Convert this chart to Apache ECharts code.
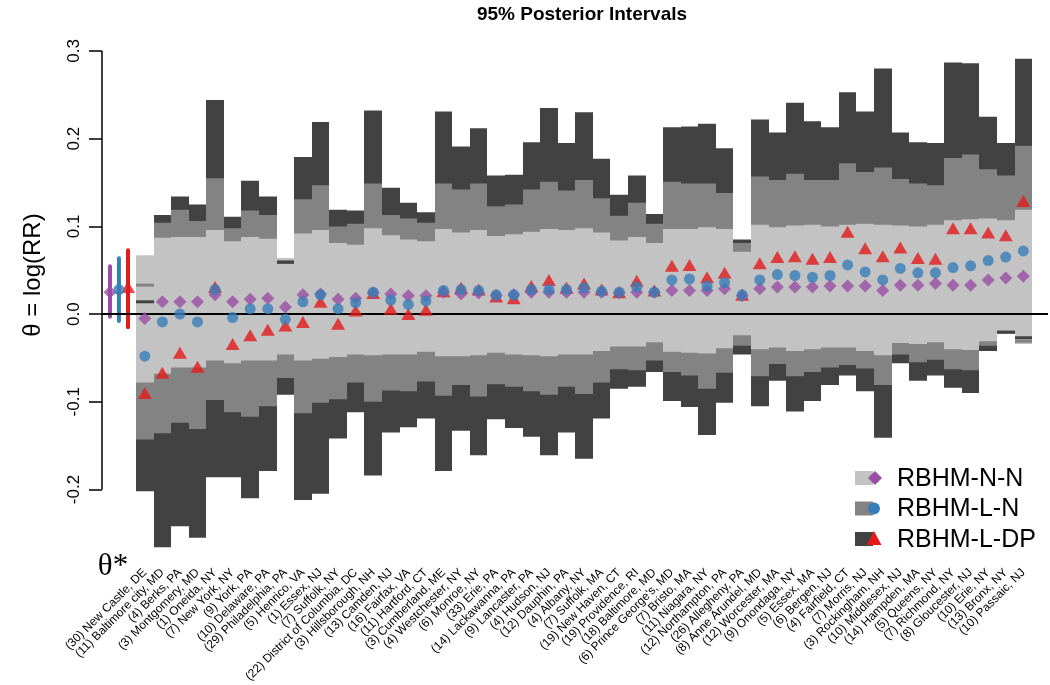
<!DOCTYPE html>
<html><head><meta charset="utf-8">
<script src="https://cdn.jsdelivr.net/npm/echarts@6/dist/echarts.min.js"></script>
<style>html,body{margin:0;padding:0;background:#fff}#c{width:1050px;height:685px}</style>
</head><body><div id="c"></div><script>
// ---------------- data ----------------
const categories = [
"(30) New Castle, DE","(11) Baltimore city, MD","(4) Berks, PA","(3) Montgomery, MD","(1) Oneida, NY",
"(7) New York, NY","(9) York, PA","(10) Delaware, PA","(29) Philadelphia, PA","(5) Henrico, VA",
"(1) Essex, NJ","(7) Suffolk, NY","(22) District of Columbia, DC","(3) Hillsborough, NH","(13) Camden, NJ",
"(16) Fairfax, VA","(11) Hartford, CT","(3) Cumberland, ME","(4) Westchester, NY","(6) Monroe, NY",
"(33) Erie, PA","(14) Lackawanna, PA","(9) Lancaster, PA","(4) Hudson, NJ","(12) Dauphin, PA",
"(4) Albany, NY","(7) Suffolk, MA","(19) New Haven, CT","(19) Providence, RI","(18) Baltimore, MD",
"(6) Prince George's, MD","(7) Bristo, MA","(11) Niagara, NY","(12) Northampton, PA","(26) Allegheny, PA",
"(8) Anne Arundel, MD","(12) Worcester, MA","(9) Onondaga, NY","(5) Essex, MA","(6) Bergen, NJ",
"(4) Fairfield, CT","(7) Morris, NJ","(3) Rockingham, NH","(10) Middlesex, NJ","(14) Hampden, MA",
"(5) Queens, NY","(7) Richmond, NY","(8) Gloucester, NJ","(10) Erie, NY","(13) Bronx, NY",
"(10) Passaic, NJ"];
// RBHM-N-N interval (light gray)
const nnLo = [-0.078,-0.068,-0.061,-0.061,-0.053,-0.056,-0.053,-0.053,-0.046,-0.053,
-0.051,-0.049,-0.046,-0.047,-0.046,-0.046,-0.043,-0.048,-0.048,-0.047,
-0.044,-0.046,-0.047,-0.048,-0.046,-0.046,-0.042,-0.037,-0.037,-0.032,
-0.043,-0.044,-0.045,-0.039,-0.024,-0.040,-0.038,-0.042,-0.040,-0.038,
-0.038,-0.042,-0.047,-0.033,-0.034,-0.032,-0.040,-0.041,-0.031,-0.0225,-0.034];
const nnHi = [0.067,0.087,0.088,0.088,0.096,0.083,0.088,0.086,0.064,0.092,
0.096,0.081,0.079,0.098,0.090,0.085,0.083,0.097,0.093,0.096,
0.089,0.091,0.094,0.097,0.096,0.098,0.093,0.084,0.088,0.081,
0.097,0.097,0.099,0.097,0.071,0.102,0.099,0.101,0.102,0.100,
0.102,0.103,0.102,0.101,0.100,0.102,0.107,0.108,0.109,0.107,0.119];
// RBHM-L-N interval (medium gray)
const lnLo = [-0.143,-0.136,-0.124,-0.131,-0.098,-0.112,-0.117,-0.105,-0.073,-0.113,
-0.101,-0.097,-0.078,-0.100,-0.087,-0.088,-0.077,-0.093,-0.081,-0.094,
-0.080,-0.083,-0.088,-0.092,-0.083,-0.091,-0.078,-0.063,-0.064,-0.053,
-0.066,-0.070,-0.085,-0.067,-0.036,-0.071,-0.057,-0.071,-0.066,-0.061,
-0.058,-0.062,-0.081,-0.046,-0.055,-0.052,-0.063,-0.064,-0.036,-0.021,-0.031];
const lnHi = [0.033,0.104,0.119,0.106,0.155,0.098,0.118,0.113,0.060,0.131,
0.147,0.100,0.103,0.149,0.113,0.109,0.104,0.149,0.142,0.149,
0.123,0.125,0.142,0.151,0.141,0.153,0.132,0.112,0.127,0.103,
0.151,0.149,0.149,0.138,0.081,0.157,0.153,0.160,0.153,0.153,
0.172,0.162,0.167,0.154,0.149,0.147,0.178,0.182,0.165,0.158,0.192];
// RBHM-L-DP interval (dark gray)
const dpLo = [-0.202,-0.266,-0.242,-0.255,-0.186,-0.186,-0.210,-0.179,-0.092,-0.212,
-0.205,-0.142,-0.112,-0.184,-0.135,-0.129,-0.119,-0.179,-0.133,-0.161,
-0.120,-0.130,-0.140,-0.161,-0.135,-0.165,-0.119,-0.085,-0.083,-0.066,
-0.099,-0.106,-0.138,-0.101,-0.046,-0.105,-0.076,-0.111,-0.099,-0.081,
-0.070,-0.088,-0.141,-0.056,-0.076,-0.070,-0.084,-0.090,-0.042,-0.0205,-0.027];
const dpHi = [0.014,0.113,0.134,0.125,0.244,0.111,0.152,0.134,0.059,0.179,
0.219,0.119,0.118,0.232,0.144,0.127,0.116,0.231,0.191,0.212,
0.158,0.159,0.196,0.235,0.195,0.230,0.177,0.136,0.158,0.114,
0.213,0.214,0.217,0.189,0.085,0.222,0.207,0.241,0.220,0.213,
0.253,0.231,0.280,0.207,0.196,0.195,0.287,0.286,0.225,0.195,0.291];
// point estimates
const nnEst = [-0.005,0.014,0.014,0.014,0.022,0.014,0.017,0.018,0.008,0.022,
0.023,0.017,0.018,0.024,0.023,0.021,0.021,0.025,0.023,0.024,
0.021,0.022,0.025,0.025,0.025,0.025,0.025,0.024,0.025,0.025,
0.027,0.027,0.027,0.029,0.021,0.029,0.031,0.031,0.031,0.032,
0.032,0.032,0.027,0.033,0.033,0.035,0.033,0.033,0.039,0.041,0.043];
const lnEst = [-0.048,-0.009,0.000,-0.009,0.028,-0.004,0.006,0.006,-0.006,0.014,
0.022,0.006,0.013,0.025,0.016,0.011,0.015,0.027,0.028,0.027,
0.022,0.022,0.028,0.028,0.028,0.030,0.026,0.025,0.031,0.025,
0.039,0.040,0.032,0.036,0.022,0.039,0.045,0.044,0.042,0.044,
0.056,0.048,0.039,0.052,0.047,0.047,0.053,0.055,0.061,0.065,0.072];
const dpEst = [-0.090,-0.067,-0.044,-0.060,0.031,-0.034,-0.024,-0.018,-0.013,-0.009,
0.014,-0.011,0.004,0.024,0.006,0.000,0.005,0.026,0.030,0.028,
0.020,0.018,0.032,0.039,0.030,0.035,0.028,0.025,0.038,0.027,
0.055,0.056,0.042,0.047,0.022,0.058,0.065,0.066,0.063,0.065,
0.094,0.075,0.066,0.076,0.064,0.063,0.098,0.098,0.093,0.090,0.129];
// theta* (overall) for N-N, L-N, L-DP
const thetaStarEst = [0.025, 0.028, 0.031];
const thetaStarLo = [-0.003, -0.008, -0.015];
const thetaStarHi = [0.0545, 0.0636, 0.0727];
const yTicks = [-0.2, -0.1, 0.0, 0.1, 0.2, 0.3];
const yTickLabels = ["-0.2", "-0.1", "0.0", "0.1", "0.2", "0.3"];
const seriesNames = ["RBHM-N-N", "RBHM-L-N", "RBHM-L-DP"];

// ---------------- styling ----------------
const LIGHT = '#c3c3c3', MED = '#838383', DARK = '#424242';
const PURPLE = '#984ea3', BLUE = '#377eb8', RED = '#e41a1c';
const X_MIN = -1.435, X_MAX = 52.405;
const STAR_X = [-0.98, -0.47, 0.045];
const FONT = 'Liberation Sans, Arial, sans-serif';

const bandData = categories.map((c, i) => [i + 1, nnLo[i], nnHi[i], lnLo[i], lnHi[i], dpLo[i], dpHi[i]]);

function renderBand(params, api) {
  const x = api.value(0);
  const xl = Math.round(api.coord([x - 0.5, 0])[0]);
  const xr = Math.round(api.coord([x + 0.5, 0])[0]);
  const b = {
    nl: api.value(1), nh: api.value(2), ll: api.value(3), lh: api.value(4), dl: api.value(5), dh: api.value(6)
  };
  const bands = [[b.dl, b.dh, DARK], [b.ll, b.lh, MED], [b.nl, b.nh, LIGHT]];
  const children = [];
  bands.forEach(([lo, hi, col]) => {
    const yt = api.coord([x, hi])[1], yb = api.coord([x, lo])[1];
    children.push({ type: 'rect', shape: { x: xl, y: yt, width: xr - xl, height: yb - yt }, style: { fill: col } });
  });
  // bounds hidden under an inner band still show as thin dashes
  const dashes = [];
  if (b.lh < b.nh) dashes.push([b.lh, MED]);
  if (b.ll > b.nl) dashes.push([b.ll, MED]);
  if (b.dh < Math.max(b.nh, b.lh)) dashes.push([b.dh, DARK]);
  if (b.dl > Math.min(b.nl, b.ll)) dashes.push([b.dl, DARK]);
  dashes.forEach(([v, col]) => {
    const y = api.coord([x, v])[1];
    children.push({ type: 'line', shape: { x1: xl, y1: y, x2: xr, y2: y }, style: { stroke: col, lineWidth: 3 } });
  });
  return { type: 'group', children };
}

const starData = thetaStarEst.map((e, i) => [STAR_X[i], thetaStarLo[i], thetaStarHi[i], i]);
const starCols = [PURPLE, BLUE, RED];
function renderStar(params, api) {
  const x = api.value(0);
  const p1 = api.coord([x, api.value(1)]), p2 = api.coord([x, api.value(2)]);
  return { type: 'line', shape: { x1: p1[0], y1: p1[1], x2: p2[0], y2: p2[1] },
    style: { stroke: starCols[api.value(3)], lineWidth: 4, lineCap: 'round' } };
}
function renderYAxisLine(params, api) {
  const p1 = api.coord([X_MIN, yTicks[0]]), p2 = api.coord([X_MIN, yTicks[yTicks.length - 1]]);
  return { type: 'line', shape: { x1: p1[0], y1: p1[1], x2: p2[0], y2: p2[1] }, style: { stroke: '#000', lineWidth: 1.5 } };
}

const pts = (arr) => arr.map((v, i) => [i + 1, v]);

const chart = echarts.init(document.getElementById('c'), null, { renderer: 'canvas' });
chart.setOption({
  animation: false,
  backgroundColor: '#fff',
  title: { text: '95% Posterior Intervals', left: 577, top: 0, textAlign: 'center',
    textStyle: { fontFamily: FONT, fontSize: 19, fontWeight: 'bold', color: '#000' } },
  grid: { left: 102, right: 2, top: 38.7, bottom: 116.6 },
  xAxis: [{
    type: 'value', min: X_MIN, max: X_MAX,
    axisLine: { show: false, onZero: false }, axisTick: { show: false }, splitLine: { show: false },
    axisLabel: { customValues: categories.map((c, i) => i + 1), formatter: (v) => categories[Math.round(v) - 1] || '',
      rotate: 45, fontSize: 12, margin: 4, color: '#000', fontFamily: FONT }
  }],
  yAxis: {
    type: 'value', min: -0.288, max: 0.314,
    axisLine: { show: false, onZero: false }, splitLine: { show: false },
    axisTick: { show: true, customValues: yTicks, length: 13, lineStyle: { color: '#000', width: 1.5 } },
    axisLabel: { customValues: yTicks, formatter: (v) => yTickLabels[yTicks.findIndex(t => Math.abs(t - v) < 1e-9)] || '',
      rotate: 90, fontSize: 17, margin: 19, color: '#000', fontFamily: FONT }
  },
  series: [
    { type: 'custom', name: 'bands', renderItem: renderBand, data: bandData, z: 1, silent: true,
      encode: { x: 0, y: [1, 2, 3, 4, 5, 6] } },
    { type: 'custom', name: 'yaxisline', renderItem: renderYAxisLine, data: [[0]], z: 2, silent: true,
      encode: { x: 0 }, clip: false },
    { type: 'line', name: 'zero', data: [], z: 3, silent: true,
      markLine: { silent: true, symbol: 'none', label: { show: false }, animation: false,
        lineStyle: { color: '#000', width: 2, type: 'solid' }, data: [{ yAxis: 0 }] } },
    { type: 'custom', name: 'thetaStar', renderItem: renderStar, data: starData, z: 4, silent: true,
      encode: { x: 0, y: [1, 2] } },
    { type: 'scatter', name: seriesNames[2], data: pts(dpEst).concat([[STAR_X[2], thetaStarEst[2]]]), symbol: 'triangle',
      symbolSize: [14, 12], itemStyle: { color: RED }, z: 5 },
    { type: 'scatter', name: seriesNames[0], data: pts(nnEst).concat([[STAR_X[0], thetaStarEst[0]]]), symbol: 'diamond',
      symbolSize: 13, itemStyle: { color: PURPLE }, z: 6 },
    { type: 'scatter', name: seriesNames[1], data: pts(lnEst).concat([[STAR_X[1], thetaStarEst[1]]]), symbol: 'circle',
      symbolSize: 11, itemStyle: { color: BLUE }, z: 7 }
  ],
  graphic: [
    { type: 'text', x: 33, y: 275, rotation: Math.PI / 2,
      style: { text: 'θ = log(RR)', font: '24px ' + FONT, fill: '#000', textAlign: 'center', textVerticalAlign: 'middle' } },
    { type: 'text', x: 113, y: 567,
      style: { text: 'θ*', font: '31px "Liberation Serif", "DejaVu Serif", serif', fill: '#000', textAlign: 'center', textVerticalAlign: 'middle' } },
    // legend
    { type: 'rect', shape: { x: 855, y: 471, width: 18, height: 14 }, style: { fill: LIGHT } },
    { type: 'polygon', shape: { points: [[875, 471], [882, 478], [875, 485], [868, 478]] }, style: { fill: PURPLE } },
    { type: 'text', x: 897, y: 479, style: { text: seriesNames[0], font: '25px ' + FONT, fill: '#000', textVerticalAlign: 'middle' } },
    { type: 'rect', shape: { x: 855, y: 501.5, width: 18, height: 14 }, style: { fill: MED } },
    { type: 'circle', shape: { cx: 874, cy: 508.5, r: 6 }, style: { fill: BLUE } },
    { type: 'text', x: 897, y: 509.5, style: { text: seriesNames[1], font: '25px ' + FONT, fill: '#000', textVerticalAlign: 'middle' } },
    { type: 'rect', shape: { x: 855, y: 532, width: 18, height: 14 }, style: { fill: DARK } },
    { type: 'polygon', shape: { points: [[874, 531], [881.5, 545], [866.5, 545]] }, style: { fill: RED } },
    { type: 'text', x: 897, y: 540, style: { text: seriesNames[2], font: '25px ' + FONT, fill: '#000', textVerticalAlign: 'middle' } }
  ]
});
</script></body></html>
